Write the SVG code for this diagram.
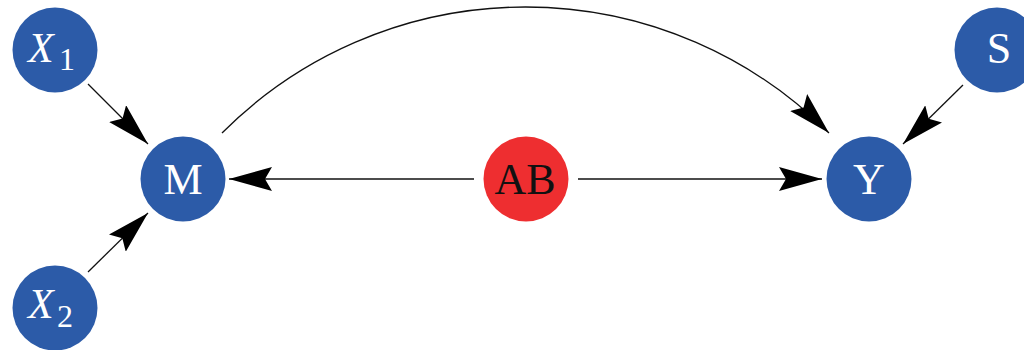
<svg xmlns="http://www.w3.org/2000/svg" width="1024" height="350" viewBox="0 0 1024 350">
<style>
.node{fill:#2C5BA8}
.red{fill:#EE2E30}
.lbl{font-family:"Liberation Serif","Times New Roman",serif;font-size:44px;fill:#fff;text-anchor:middle}
.it{font-family:"Liberation Serif","Times New Roman",serif;font-size:42px;fill:#fff;font-style:italic}
.sub{font-family:"Liberation Serif","Times New Roman",serif;font-size:32px;fill:#fff}
.edge{fill:none;stroke:#111;stroke-width:1.3;marker-end:url(#ah)}
</style>
<defs>
<marker id="ah" markerUnits="userSpaceOnUse" markerWidth="50" markerHeight="30" refX="43" refY="12" orient="auto">
<path d="M0,0 L43,12 L0,24 L7,12 Z" fill="#000"/>
</marker>
</defs>
<rect width="1024" height="350" fill="#fff"/>
<g id="connectors">
<line class="edge" x1="88" y1="84" x2="148" y2="144"/>
<line class="edge" x1="88" y1="272" x2="148" y2="213"/>
<line class="edge" x1="474" y1="179" x2="229" y2="179"/>
<line class="edge" x1="578" y1="179" x2="822" y2="179"/>
<line class="edge" x1="963" y1="85" x2="903" y2="144"/>
<path class="edge" d="M222,133 A428.5,428.5 0 0 1 829,133"/>
</g>
<g id="X1">
<circle class="node" cx="55" cy="50" r="42.5"/>
<text class="it" x="28" y="62">X</text><text class="sub" x="59" y="70">1</text>
</g>
<g id="X2">
<circle class="node" cx="55" cy="308" r="42.5"/>
<text class="it" x="28" y="318">X</text><text class="sub" x="57" y="327">2</text>
</g>
<g id="M">
<circle class="node" cx="183" cy="179" r="42.5"/>
<text class="lbl" x="183" y="194">M</text>
</g>
<g id="AB">
<circle class="red" cx="526" cy="179" r="42.5"/>
<text class="lbl" x="525" y="194" style="fill:#111">AB</text>
</g>
<g id="Y">
<circle class="node" cx="869" cy="179" r="42.5"/>
<text class="lbl" x="869" y="194">Y</text>
</g>
<g id="S">
<circle class="node" cx="997" cy="50" r="42.5"/>
<text class="lbl" x="999" y="63">S</text>
</g>
</svg>
